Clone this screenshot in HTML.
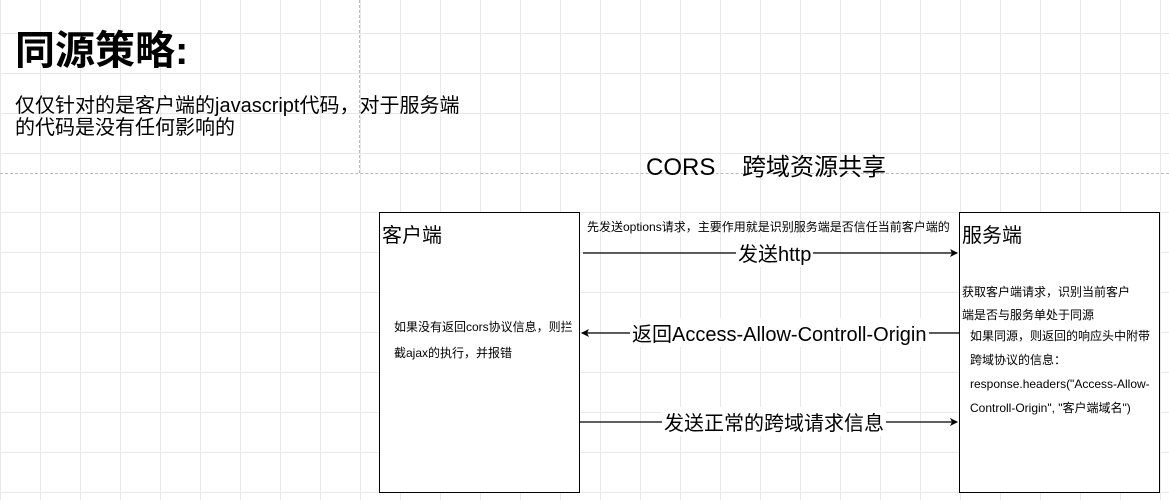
<!DOCTYPE html>
<html><head><meta charset="utf-8"><style>
body{margin:0;width:1169px;height:500px;position:relative;overflow:hidden;background:#fff;font-family:"Liberation Sans","Noto Sans CJK SC",sans-serif;}
.g{position:absolute;left:0;width:1169px;background-image:linear-gradient(#e8e8e8 1px,transparent 1px),linear-gradient(90deg,#e8e8e8 1px,transparent 1px);background-size:40px 40px;}
.t{position:absolute;white-space:nowrap;color:#000;}
.box{position:absolute;border:1.5px solid #000;background:#fff;box-sizing:border-box;}
</style></head><body>
<div class="g" style="top:0;height:173px;background-position:0 33px"></div>
<div class="g" style="top:173px;height:327px;background-position:0 -1px"></div>
<div style="position:absolute;left:359px;top:0;height:173px;border-left:1px dashed #bbb"></div>
<div style="position:absolute;left:0;top:173px;width:1169px;border-top:1px dashed #bbb"></div>
<div class="t" style="left:15px;top:18px;font-size:40px;font-weight:bold">同源策略:</div>
<div class="t" style="left:15px;top:95px;font-size:20px;line-height:22px">仅仅针对的是客户端的javascript代码，对于服务端<br>的代码是没有任何影响的</div>
<div class="t" style="left:646px;top:147px;font-size:24px">CORS&nbsp;&nbsp;&nbsp;&nbsp;跨域资源共享</div>
<div class="box" style="left:379px;top:212px;width:201px;height:281px"></div>
<div class="box" style="left:959px;top:212px;width:201px;height:281px"></div>
<div class="t" style="left:382px;top:219px;font-size:20px">客户端</div>
<div class="t" style="left:962px;top:219px;font-size:20px">服务端</div>
<svg style="position:absolute;left:0;top:0" width="1169" height="500">
<defs><marker id="a" markerWidth="8" markerHeight="8" refX="7" refY="4" orient="auto" markerUnits="userSpaceOnUse"><path d="M0,0L8,4L0,8L2,4z" fill="#000"/></marker></defs>
<line x1="583" y1="253" x2="957" y2="253" stroke="#000" stroke-width="1.3" marker-end="url(#a)"/>
<line x1="959" y1="333" x2="582" y2="333" stroke="#000" stroke-width="1.3" marker-end="url(#a)"/>
<line x1="580" y1="422" x2="957" y2="422" stroke="#000" stroke-width="1.3" marker-end="url(#a)"/>
</svg>
<div class="t" style="left:587px;top:218px;font-size:12px">先发送options请求，主要作用就是识别服务端是否信任当前客户端的</div>
<div class="t" style="left:736px;top:238px;font-size:20px;background:#fff;padding:0 2px">发送http</div>
<div class="t" style="left:630px;top:318px;font-size:20px;background:#fff;padding:0 2px">返回Access-Allow-Controll-Origin</div>
<div class="t" style="left:662px;top:407px;font-size:20px;background:#fff;padding:0 2px">发送正常的跨域请求信息</div>
<div class="t" style="left:394px;top:314px;font-size:12px;line-height:26px">如果没有返回cors协议信息，则拦<br>截ajax的执行，并报错</div>
<div class="t" style="left:962px;top:281px;font-size:12px;line-height:23px">获取客户端请求，识别当前客户<br>端是否与服务单处于同源</div>
<div class="t" style="left:970px;top:324px;font-size:12px;line-height:24px">如果同源，则返回的响应头中附带<br>跨域协议的信息：<br>response.headers("Access-Allow-<br>Controll-Origin", "客户端域名")</div>
</body></html>
